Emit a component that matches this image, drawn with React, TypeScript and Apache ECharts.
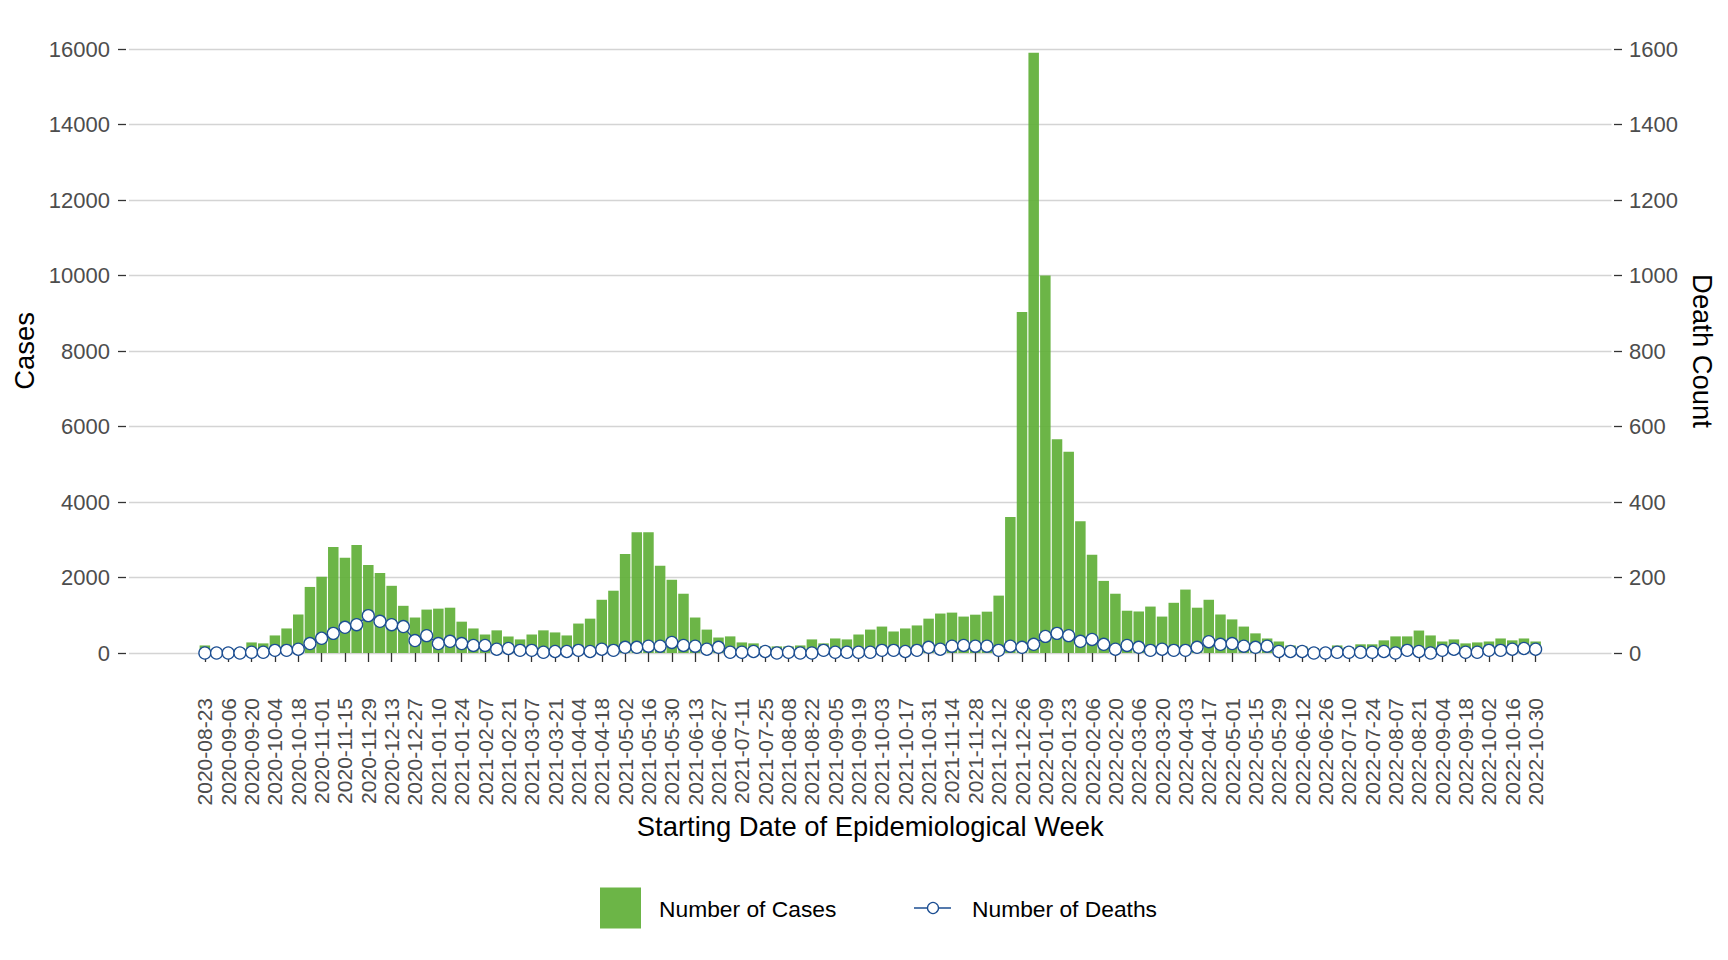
import React, { useEffect, useRef } from "react";
import * as echarts from "echarts";

// Starting date of each epidemiological week
const weeks: string[] = [
  "2020-08-23", "2020-08-30", "2020-09-06", "2020-09-13", "2020-09-20", "2020-09-27",
  "2020-10-04", "2020-10-11", "2020-10-18", "2020-10-25", "2020-11-01", "2020-11-08",
  "2020-11-15", "2020-11-22", "2020-11-29", "2020-12-06", "2020-12-13", "2020-12-20",
  "2020-12-27",
  "2021-01-03", "2021-01-10", "2021-01-17", "2021-01-24", "2021-01-31", "2021-02-07",
  "2021-02-14", "2021-02-21", "2021-02-28", "2021-03-07", "2021-03-14", "2021-03-21",
  "2021-03-28", "2021-04-04", "2021-04-11", "2021-04-18", "2021-04-25", "2021-05-02",
  "2021-05-09", "2021-05-16", "2021-05-23", "2021-05-30", "2021-06-06", "2021-06-13",
  "2021-06-20", "2021-06-27", "2021-07-04", "2021-07-11", "2021-07-18", "2021-07-25",
  "2021-08-01", "2021-08-08", "2021-08-15", "2021-08-22", "2021-08-29", "2021-09-05",
  "2021-09-12", "2021-09-19", "2021-09-26", "2021-10-03", "2021-10-10", "2021-10-17",
  "2021-10-24", "2021-10-31", "2021-11-07", "2021-11-14", "2021-11-21", "2021-11-28",
  "2021-12-05", "2021-12-12", "2021-12-19", "2021-12-26",
  "2022-01-02", "2022-01-09", "2022-01-16", "2022-01-23", "2022-01-30", "2022-02-06",
  "2022-02-13", "2022-02-20", "2022-02-27", "2022-03-06", "2022-03-13", "2022-03-20",
  "2022-03-27", "2022-04-03", "2022-04-10", "2022-04-17", "2022-04-24", "2022-05-01",
  "2022-05-08", "2022-05-15", "2022-05-22", "2022-05-29", "2022-06-05", "2022-06-12",
  "2022-06-19", "2022-06-26", "2022-07-03", "2022-07-10", "2022-07-17", "2022-07-24",
  "2022-07-31", "2022-08-07", "2022-08-14", "2022-08-21", "2022-08-28", "2022-09-04",
  "2022-09-11", "2022-09-18", "2022-09-25", "2022-10-02", "2022-10-09", "2022-10-16",
  "2022-10-23", "2022-10-30",
];

// Number of cases per week (left axis)
const cases: number[] = [
  200, 60, 80, 115, 280, 255, 465, 650, 1020, 1750,
  2020, 2810, 2520, 2860, 2330, 2120, 1780, 1250, 940, 1150,
  1175, 1200, 830, 650, 490, 600, 440, 360, 490, 600,
  545, 465, 780, 910, 1410, 1650, 2620, 3200, 3200, 2310,
  1940, 1570, 940, 620, 410, 440, 280, 255, 175, 175,
  175, 200, 360, 255, 385, 360, 490, 620, 700, 570,
  650, 730, 910, 1045, 1070, 965, 1015, 1095, 1520, 3600,
  9030, 15900, 10000, 5660, 5330, 3490, 2600, 1910, 1570, 1120,
  1100, 1230, 965, 1330, 1680, 1200, 1410, 1020, 890, 700,
  520, 385, 305, 200, 175, 125, 90, 200, 150, 230,
  230, 335, 440, 440, 595, 465, 305, 360, 255, 280,
  305, 385, 335, 385, 305,
];

// Number of deaths per week (right axis)
const deaths: number[] = [
  0, 0, 0, 0, 2, 2, 7, 7, 10, 25,
  39, 52, 68, 75, 99, 84, 75, 70, 33, 46,
  25, 31, 25, 20, 20, 10, 12, 7, 7, 2,
  4, 4, 7, 4, 10, 7, 15, 15, 18, 18,
  28, 20, 18, 10, 15, 2, 2, 4, 4, 0,
  2, 0, 0, 7, 2, 2, 2, 2, 7, 7,
  4, 7, 15, 10, 18, 20, 18, 18, 7, 18,
  15, 23, 44, 52, 46, 31, 36, 23, 10, 20,
  15, 7, 10, 7, 7, 15, 30, 23, 25, 18,
  15, 18, 4, 4, 4, 0, 0, 2, 2, 2,
  2, 4, 0, 7, 4, 0, 7, 10, 2, 2,
  7, 7, 10, 12, 10,
];

const casesAxis = { min: 0, max: 16000, interval: 2000 };
const deathsAxis = { min: 0, max: 1600, interval: 200 };

const FONT = "'Liberation Sans', Arial, Helvetica, sans-serif";
const GREEN = "#5FAF37";
const BLUE = "#1C4E92";
const PAD = 6;

export default function App() {
  const ref = useRef<HTMLDivElement>(null);

  useEffect(() => {
    if (!ref.current) return;
    const chart = echarts.init(ref.current, null, { renderer: "svg" });

    const padL = Array.from({ length: PAD }, (_, i) => `padL${i}`);
    const padR = Array.from({ length: PAD }, (_, i) => `padR${i}`);
    const cats = [...padL, ...weeks, ...padR];
    const nulls = Array(PAD).fill(null);
    const showIdx = (i: number) =>
      i >= PAD && i < PAD + weeks.length && (i - PAD) % 2 === 0;
    const plain = (v: number) => String(v);

    const option: any = {
      animation: false,
      backgroundColor: "#ffffff",
      textStyle: { fontFamily: FONT },
      grid: { left: 129, right: 116.5, top: 49, bottom: 307, containLabel: false },
      xAxis: {
        type: "category",
        data: cats,
        offset: 30,
        axisLine: { show: false },
        axisTick: {
          show: true,
          length: 9,
          alignWithLabel: true,
          interval: (i: number) => showIdx(i),
          lineStyle: { color: "#333333", width: 1.3 },
        },
        axisLabel: {
          interval: (i: number) => showIdx(i),
          rotate: 90,
          margin: 15,
          fontSize: 21,
          color: "#4D4D4D",
          fontFamily: FONT,
        },
        splitLine: { show: false },
        name: "Starting Date of Epidemiological Week",
        nameLocation: "middle",
        nameGap: 126,
        nameTextStyle: { fontSize: 27.4, color: "#000000", fontFamily: FONT },
      },
      yAxis: [
        {
          type: "value",
          position: "left",
          offset: 3,
          ...casesAxis,
          axisLine: { show: false },
          axisTick: { show: true, length: 8, lineStyle: { color: "#333333", width: 1.3 } },
          axisLabel: { margin: 16, fontSize: 22, color: "#4D4D4D", fontFamily: FONT, formatter: plain },
          splitLine: { show: true, lineStyle: { color: "#D4D4D4", width: 1.3 } },
          name: "Cases",
          nameLocation: "middle",
          nameRotate: 90,
          nameGap: 78,
          nameTextStyle: { fontSize: 27.4, color: "#000000", fontFamily: FONT },
        },
        {
          type: "value",
          position: "right",
          offset: 2.5,
          ...deathsAxis,
          axisLine: { show: false },
          axisTick: { show: true, length: 8, lineStyle: { color: "#333333", width: 1.3 } },
          axisLabel: { margin: 15, fontSize: 22, color: "#4D4D4D", fontFamily: FONT, formatter: plain },
          splitLine: { show: false },
          name: "Death Count",
          nameLocation: "middle",
          nameRotate: -90,
          nameGap: 50,
          nameTextStyle: { fontSize: 27.4, color: "#000000", fontFamily: FONT },
        },
      ],
      series: [
        {
          type: "bar",
          name: "Number of Cases",
          yAxisIndex: 0,
          data: [...nulls, ...cases, ...nulls],
          barWidth: "90%",
          itemStyle: { color: GREEN, opacity: 0.92 },
          z: 2,
        },
        {
          type: "line",
          name: "Number of Deaths",
          yAxisIndex: 1,
          data: [...nulls, ...deaths, ...nulls],
          symbol: "circle",
          symbolSize: 12,
          showSymbol: true,
          showAllSymbol: true,
          lineStyle: { color: BLUE, width: 1.3 },
          itemStyle: { color: "#ffffff", borderColor: BLUE, borderWidth: 1.3 },
          z: 3,
        },
      ],
      graphic: [
        {
          type: "rect",
          shape: { x: 600, y: 887.5, width: 41, height: 41 },
          style: { fill: GREEN, opacity: 0.92 },
        },
        {
          type: "text",
          x: 659,
          y: 908.5,
          style: {
            text: "Number of Cases",
            fontSize: 22.8,
            fontFamily: FONT,
            fill: "#000000",
            verticalAlign: "middle",
            align: "left",
          },
        },
        {
          type: "line",
          shape: { x1: 914, y1: 908, x2: 951, y2: 908 },
          style: { stroke: BLUE, lineWidth: 1.5 },
        },
        {
          type: "circle",
          shape: { cx: 933, cy: 908, r: 5.5 },
          style: { fill: "#ffffff", stroke: BLUE, lineWidth: 1.3 },
        },
        {
          type: "text",
          x: 972,
          y: 908.5,
          style: {
            text: "Number of Deaths",
            fontSize: 22.8,
            fontFamily: FONT,
            fill: "#000000",
            verticalAlign: "middle",
            align: "left",
          },
        },
      ],
    };

    chart.setOption(option);
    return () => chart.dispose();
  }, []);

  return (
    <div
      ref={ref}
      style={{ position: "fixed", left: 0, top: 0, width: 1728, height: 960, background: "#ffffff" }}
    />
  );
}
